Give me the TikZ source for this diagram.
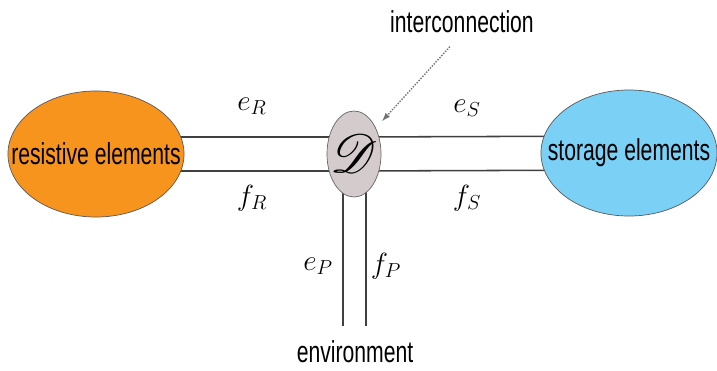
\documentclass[tikz,border=0pt]{standalone}
\usepackage{fontspec}
\usepackage{mathrsfs}
\usetikzlibrary{arrows.meta,positioning,calc,shapes.geometric}

\newfontfamily\labelfont[FakeStretch=0.7]{Liberation Sans}
\definecolor{resorange}{RGB}{247,148,30}
\definecolor{storblue}{RGB}{122,208,245}
\definecolor{diracgray}{RGB}{212,204,204}

\pgfdeclarelayer{background}
\pgfsetlayers{background,main}

\begin{document}
\begin{tikzpicture}[
  x=0.025cm, y=-0.025cm,
  every node/.style={inner sep=0pt},
  blob/.style={ellipse, draw=black!65, line width=0.5pt, minimum width=4.4cm, minimum height=3.15cm, font=\labelfont\fontsize{21.5}{24}\selectfont},
  junction/.style={ellipse, draw=black!60, line width=0.5pt, fill=diracgray, minimum width=1.35cm, minimum height=2.15cm},
  port/.style={line width=1.1pt, draw=black!75},
  sig/.style={font=\huge},
  tag/.style={font=\labelfont\fontsize{21.5}{24}\selectfont},
  hint/.style={-{Latex[length=2.2mm,width=1.5mm]}, densely dotted, black!55, line width=1pt}
]
  \useasboundingbox (0,0) rectangle (717,370);

  \node[blob, fill=resorange] (resistive) at (96,154) {\makebox[0pt]{resistive elements}};
  \node[blob, fill=storblue] (storage) at (629,153) {\makebox[0pt]{storage elements}};
  \node[junction] (dirac) at (354,154) {\makebox[0pt]{\scalebox{1.55}{\Huge$\mathscr{D}$}}};

  \node[tag] (inter) at (462,22) {interconnection};
  \node[tag] (env) at (355,352) {environment};
  \coordinate (envl) at (343,326);
  \coordinate (envr) at (366,326);

  % bonds
  \begin{pgfonlayer}{background}
    \draw[port] ($(resistive.center)+(0,-17)$) -- ($(dirac.center)+(0,-17)$);
    \draw[port] ($(resistive.center)+(0,17)$) -- ($(dirac.center)+(0,17)$);
    \draw[port] ($(dirac.center)+(0,-17)$) -- ($(storage.center)+(0,-17)$);
    \draw[port] ($(dirac.center)+(0,17)$) -- ($(storage.center)+(0,17)$);
    \draw[port] (dirac.center -| envl) -- (envl);
    \draw[port] (dirac.center -| envr) -- (envr);
  \end{pgfonlayer}

  \node[sig] (eR) at (252,106) {$e_R$};
  \node[sig] (fR) at (252,198) {$f_R$};
  \node[sig] (eS) at (467,108) {$e_S$};
  \node[sig] (fS) at (467,198) {$f_S$};
  \node[sig] (eP) at (318,266) {$e_P$};
  \node[sig] (fP) at (386,266) {$f_P$};

  \draw[hint, shorten <=0.45cm, shorten >=0.22cm] (inter.south) -- (dirac.50);
\end{tikzpicture}
\end{document}
